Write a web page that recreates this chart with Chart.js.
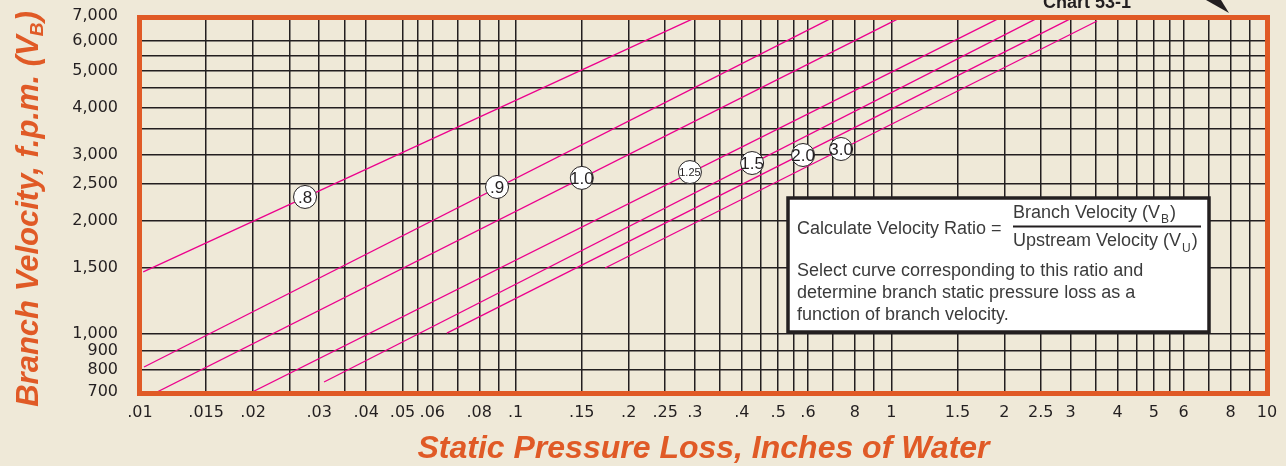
<!DOCTYPE html>
<html>
<head>
<meta charset="utf-8">
<script src="https://cdn.jsdelivr.net/npm/chart.js@4.4.1/dist/chart.umd.min.js"></script>
<style>
  html, body { margin: 0; padding: 0; background: #efe9d8; }
  #wrap { position: relative; width: 1286px; height: 466px; }
</style>
</head>
<body>
<div id="wrap"><canvas id="chart53"></canvas></div>
<script>
/*------------------------------- DATA ----------------------------------*/
// Static pressure loss, inches of water (x) - every grid line on the sheet
const xGrid = [0.01, 0.015, 0.02, 0.025, 0.03, 0.035, 0.04, 0.05, 0.055, 0.06, 0.07, 0.08, 0.09,
  0.1, 0.15, 0.2, 0.25, 0.3, 0.35, 0.4, 0.45, 0.5, 0.55, 0.6, 0.7, 0.8, 0.9,
  1, 1.5, 2, 2.5, 3, 3.5, 4, 4.5, 5, 5.5, 6, 7, 8, 9, 10];
// the ones that carry a label
const xTickVals = [0.01, 0.015, 0.02, 0.03, 0.04, 0.05, 0.06, 0.08, 0.1, 0.15, 0.2, 0.25, 0.3,
  0.4, 0.5, 0.6, 0.8, 1, 1.5, 2, 2.5, 3, 4, 5, 6, 8, 10];
const xTickText = ['.01', '.015', '.02', '.03', '.04', '.05', '.06', '.08', '.1', '.15', '.2', '.25', '.3',
  '.4', '.5', '.6', '8', '1', '1.5', '2', '2.5', '3', '4', '5', '6', '8', '10'];

// Branch velocity, f.p.m. (y)
const yGrid = [700, 800, 900, 1000, 1500, 2000, 2500, 3000, 3500, 4000, 4500, 5000, 5500, 6000, 7000];
const yTickVals = [700, 800, 900, 1000, 1500, 2000, 2500, 3000, 4000, 5000, 6000, 7000];
const yTickText = ['700', '800', '900', '1,000', '1,500', '2,000', '2,500', '3,000', '4,000', '5,000', '6,000', '7,000'];

// Velocity ratio curves: start point and where they run out at the top
const ratioNames = ['.8', '.9', '1.0', '1.25', '1.5', '2.0', '3.0'];
const lineStartX = [0.0102, 0.01025, 0.0111, 0.0199, 0.0309, 0.0656, 0.173];
const lineStartY = [1460, 816, 700, 700, 744, 1004, 1496];
const lineEndX = [0.30, 0.695, 1.054, 1.945, 2.455, 3.03, 3.53];
const lineEndY = [6920, 6920, 6920, 6920, 6920, 6920, 6790];

// Circled ratio labels on each line
const markerX = [0.0275, 0.0892, 0.150, 0.291, 0.426, 0.582, 0.735];
const markerY = [2311, 2457, 2597, 2692, 2845, 2988, 3100];

/*------------------------------- STYLE ---------------------------------*/
const orange = '#e05a26';
const pink = '#ec008c';
const ink = '#231f20';
const boxInk = '#3b3b3b';

// find label for a tick value ('' -> grid line only)
function tickText(vals, texts, v) {
  for (let i = 0; i < vals.length; i++) {
    if (Math.abs(vals[i] - v) < vals[i] * 1e-6) return texts[i];
  }
  return '';
}

/*------------------------------- DECOR ---------------------------------*/
// Text box, circled labels, frame and the rotated y title
const chartDecor = {
  id: 'chartDecor',
  afterDatasetsDraw(chart) {
    const ctx = chart.ctx;
    ctx.save();

    // explanation box
    ctx.fillStyle = '#ffffff';
    ctx.fillRect(788, 198, 421, 134);
    ctx.strokeStyle = ink;
    ctx.lineWidth = 3.5;
    ctx.strokeRect(788, 198, 421, 134);

    ctx.fillStyle = boxInk;
    ctx.textAlign = 'left';
    ctx.textBaseline = 'alphabetic';
    ctx.font = "18px 'Liberation Sans', Arial, sans-serif";
    ctx.fillText('Calculate Velocity Ratio =', 797, 234);
    ctx.fillText('Select curve corresponding to this ratio and', 797, 276);
    ctx.fillText('determine branch static pressure loss as a', 797, 298);
    ctx.fillText('function of branch velocity.', 797, 320);

    // fraction
    let x = 1013;
    let w = ctx.measureText('Branch Velocity (V').width;
    ctx.fillText('Branch Velocity (V', x, 218);
    ctx.font = "12px 'Liberation Sans', Arial, sans-serif";
    ctx.fillText('B', x + w + 1, 223);
    let ws = ctx.measureText('B').width;
    ctx.font = "18px 'Liberation Sans', Arial, sans-serif";
    ctx.fillText(')', x + w + ws + 2, 218);

    w = ctx.measureText('Upstream Velocity (V').width;
    ctx.fillText('Upstream Velocity (V', x, 246);
    ctx.font = "12px 'Liberation Sans', Arial, sans-serif";
    ctx.fillText('U', x + w + 1, 252);
    ws = ctx.measureText('U').width;
    ctx.font = "18px 'Liberation Sans', Arial, sans-serif";
    ctx.fillText(')', x + w + ws + 2, 246);

    ctx.strokeStyle = ink;
    ctx.lineWidth = 2;
    ctx.beginPath();
    ctx.moveTo(1013, 226.5);
    ctx.lineTo(1201, 226.5);
    ctx.stroke();

    // ratio numbers inside the circles
    const meta = chart.getDatasetMeta(chart.data.datasets.length - 1);
    ctx.fillStyle = ink;
    ctx.textAlign = 'center';
    ctx.textBaseline = 'middle';
    meta.data.forEach((pt, i) => {
      const size = ratioNames[i].length > 3 ? 11 : 17;
      ctx.font = size + "px 'Liberation Sans', Arial, sans-serif";
      ctx.fillText(ratioNames[i], pt.x, pt.y + 1);
    });
    ctx.restore();
  },
  afterDraw(chart) {
    const ctx = chart.ctx;
    const a = chart.chartArea;
    ctx.save();

    // orange frame round the plot
    ctx.strokeStyle = orange;
    ctx.lineWidth = 5;
    ctx.strokeRect(a.left - 0.5, a.top + 1.5, a.right - a.left + 1, a.bottom - a.top);

    // y title, rotated, with subscript B
    ctx.translate(38, 209);
    ctx.rotate(-Math.PI / 2);
    ctx.fillStyle = orange;
    ctx.textBaseline = 'alphabetic';
    ctx.textAlign = 'left';
    const big = "italic bold 31px 'Liberation Sans', Arial, sans-serif";
    const small = "italic bold 19px 'Liberation Sans', Arial, sans-serif";
    ctx.font = big;
    const w1 = ctx.measureText('Branch Velocity, f.p.m. (V').width;
    const w3 = ctx.measureText(')').width;
    ctx.font = small;
    const w2 = ctx.measureText('B').width;
    let sx = -(w1 + w2 + w3) / 2;
    ctx.font = big;
    ctx.fillText('Branch Velocity, f.p.m. (V', sx, 0);
    ctx.font = small;
    ctx.fillText('B', sx + w1 - 1, 5);
    ctx.font = big;
    ctx.fillText(')', sx + w1 + w2, 0);
    ctx.restore();

    // chart number and arrow, cut by the top edge
    ctx.save();
    ctx.fillStyle = ink;
    ctx.font = "bold 18px 'Liberation Sans', Arial, sans-serif";
    ctx.textAlign = 'left';
    ctx.fillText('Chart 53-1', 1043, 8);
    ctx.beginPath();
    ctx.moveTo(1206, 0);
    ctx.lineTo(1221, 0);
    ctx.lineTo(1229, 13);
    ctx.closePath();
    ctx.fill();
    ctx.restore();
  }
};

/*------------------------------- CHART ---------------------------------*/
const datasets = ratioNames.map((name, i) => ({
  label: name,
  data: [{ x: lineStartX[i], y: lineStartY[i] }, { x: lineEndX[i], y: lineEndY[i] }],
  showLine: true,
  borderColor: pink,
  borderWidth: 1.3,
  pointRadius: 0,
  order: 2,
}));
datasets.push({
  label: 'ratio',
  data: markerX.map((x, i) => ({ x: x, y: markerY[i] })),
  showLine: false,
  pointRadius: 11.5,
  pointBackgroundColor: '#ffffff',
  pointBorderColor: ink,
  pointBorderWidth: 1,
  order: 1,
});

const tickFont = { family: "'DejaVu Sans', sans-serif", size: 16 };

new Chart(document.getElementById('chart53'), {
  type: 'scatter',
  data: { datasets: datasets },
  plugins: [chartDecor],
  options: {
    responsive: true,
    maintainAspectRatio: false,
    animation: false,
    events: [],
    layout: { padding: { top: 16, right: 19, left: 0, bottom: 0 } },
    plugins: {
      legend: { display: false },
      tooltip: { enabled: false },
    },
    scales: {
      x: {
        type: 'logarithmic',
        min: 0.01,
        max: 10,
        afterBuildTicks: (s) => { s.ticks = xGrid.map((v) => ({ value: v })); },
        afterFit: (s) => { s.height = 74; s.paddingLeft = 0; s.paddingRight = 0; },
        ticks: {
          autoSkip: false,
          maxRotation: 0,
          minRotation: 0,
          padding: 11,
          color: ink,
          font: tickFont,
          callback: (v) => tickText(xTickVals, xTickText, v),
        },
        grid: { color: ink, lineWidth: 1.5, drawTicks: false },
        border: { display: false },
        title: {
          display: true,
          text: 'Static Pressure Loss, Inches of Water',
          color: orange,
          font: { family: "'Liberation Sans', Arial, sans-serif", size: 32, weight: 'bold', style: 'italic', lineHeight: 1 },
          padding: { top: 0, bottom: 1 },
        },
      },
      y: {
        type: 'logarithmic',
        min: 700,
        max: 7000,
        afterBuildTicks: (s) => { s.ticks = yGrid.map((v) => ({ value: v })); },
        afterFit: (s) => { s.width = 140; s.paddingTop = 0; s.paddingBottom = 0; },
        ticks: {
          autoSkip: false,
          padding: 22,
          color: ink,
          font: tickFont,
          callback: (v) => tickText(yTickVals, yTickText, v),
        },
        grid: { color: ink, lineWidth: 1.5, drawTicks: false },
        border: { display: false },
      },
    },
  },
});
</script>
</body>
</html>
